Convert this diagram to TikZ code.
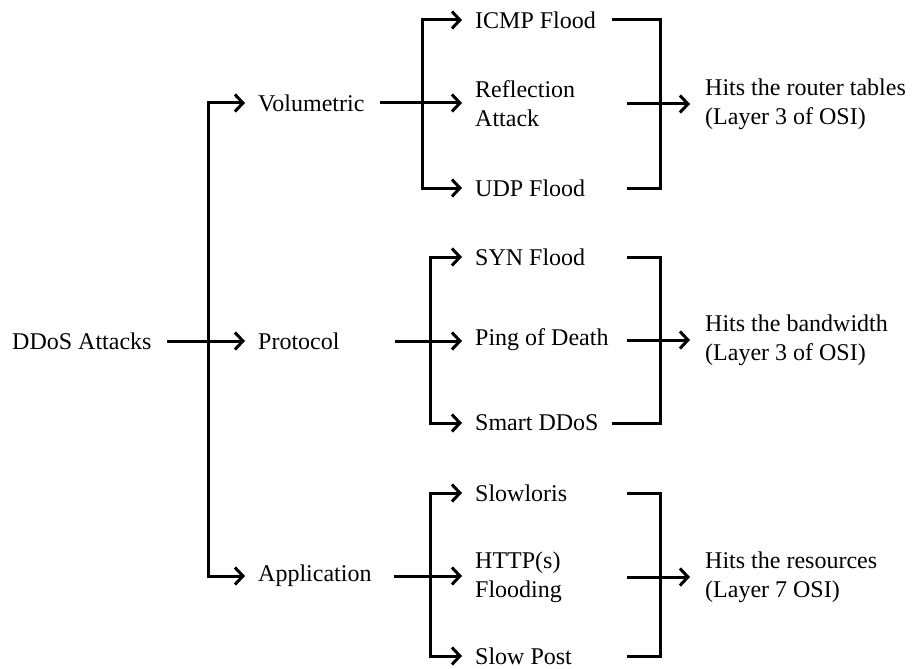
\documentclass[tikz,border=0pt]{standalone}
\usepackage{fontspec}
\setmainfont{Liberation Serif}
\usetikzlibrary{arrows.meta}
\begin{document}
\begin{tikzpicture}[x=1pt,y=-1pt,
  font=\fontsize{24}{29}\selectfont,
  lbl/.style={anchor=west,inner sep=0pt,align=left},
  ln/.style={line width=3pt,line join=miter},
  tip/.tip={Straight Barb[length=8pt,width=17pt,line width=3pt]},
  arr/.style={ln,-tip},
  dbl/.style={ln,tip-tip}]
\useasboundingbox (0,0) rectangle (914,669);

% text nodes
\node[lbl] (dd)    at (12,341)  {DDoS Attacks};
\node[lbl] (vol)   at (258,103) {Volumetric};
\node[lbl] (pro)   at (258,341) {Protocol};
\node[lbl] (app)   at (258,576) {Application};
\node[lbl] (icmp)  at (475,20)  {ICMP Flood};
\node[lbl] (refl)  at (475,104) {Reflection\\Attack};
\node[lbl] (udp)   at (475,188) {UDP Flood};
\node[lbl] (syn)   at (475,257) {SYN Flood};
\node[lbl] (ping)  at (475,340) {Ping of Death};
\node[lbl] (smart) at (475,423) {Smart DDoS};
\node[lbl] (slow)  at (475,493) {Slowloris};
\node[lbl] (http)  at (475,577) {HTTP(s)\\Flooding};
\node[lbl] (post)  at (475,656) {Slow Post};
\node[lbl] (h1)    at (705,104) {Hits the router tables\\(Layer 3 of OSI)};
\node[lbl] (h2)    at (705,340) {Hits the bandwidth\\(Layer 3 of OSI)};
\node[lbl] (h3)    at (705,577) {Hits the resources\\(Layer 7 OSI)};

% x positions of brackets and arrow ends
\coordinate (ta) at (208,0);
\coordinate (la) at (245,0);
\coordinate (va) at (422,0);
\coordinate (pa) at (430,0);
\coordinate (lb) at (462,0);
\coordinate (rb) at (660,0);
\coordinate (rs) at (627,0);
\coordinate (rl) at (612,0);
\coordinate (re) at (690,0);

% level 1
\draw[arr] ([xshift=15pt]dd.east) -- (la |- dd.east);
\draw[dbl] (la |- vol.west) -- (ta |- vol.west) -- (ta |- app.west) -- (la |- app.west);

% volumetric
\draw[arr] ([xshift=15pt]vol.east) -- (lb |- vol.east);
\draw[dbl] (lb |- icmp.west) -- (va |- icmp.west) -- (va |- udp.west) -- (lb |- udp.west);
\draw[ln] (rl |- icmp.east) -- (rb |- icmp.east) -- (rb |- udp.east) -- (rs |- udp.east);
\draw[arr] (rs |- refl.east) -- (re |- refl.east);

% protocol
\draw[arr] ([xshift=55pt]pro.east) -- (lb |- pro.east);
\draw[dbl] (lb |- syn.west) -- (pa |- syn.west) -- (pa |- smart.west) -- (lb |- smart.west);
\draw[ln] (rs |- syn.east) -- (rb |- syn.east) -- (rb |- smart.east) -- (rl |- smart.east);
\draw[arr] (rs |- ping.east) -- (re |- ping.east);

% application
\draw[arr] ([xshift=22pt]app.east) -- (lb |- app.east);
\draw[dbl] (lb |- slow.west) -- (pa |- slow.west) -- (pa |- post.west) -- (lb |- post.west);
\draw[ln] (rs |- slow.east) -- (rb |- slow.east) -- (rb |- post.east) -- (rs |- post.east);
\draw[arr] (rs |- http.east) -- (re |- http.east);
\end{tikzpicture}
\end{document}
